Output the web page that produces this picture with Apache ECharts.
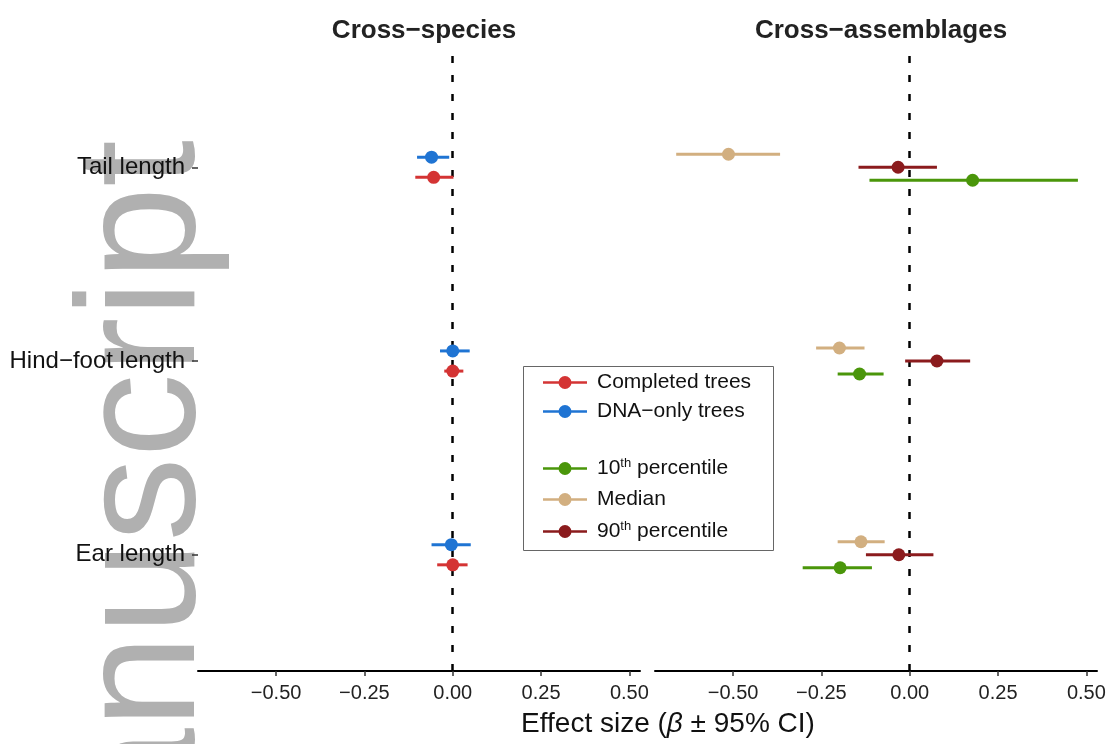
<!DOCTYPE html>
<html>
<head>
<meta charset="utf-8">
<title>Effect sizes</title>
<script src="https://cdn.jsdelivr.net/npm/echarts@6/dist/echarts.min.js"></script>
<style>
    html, body { margin: 0; padding: 0; background: #fff; }
    #chart { width: 1114px; height: 744px; }
</style>
</head>
<body>
<div id="chart"></div>
<script>
/* ===== 数据 ===== */
// y position 1..3 from bottom
const traits = ["Ear length", "Hind\u2212foot length", "Tail length"];
const xTicks = [-0.5, -0.25, 0, 0.25, 0.5];

// Cross-species
const completedEst = [0.000, 0.000, -0.054];
const completedLo  = [-0.044, -0.024, -0.106];
const completedHi  = [0.042, 0.030, 0.002];
const dnaEst = [-0.004, 0.000, -0.060];
const dnaLo  = [-0.060, -0.036, -0.101];
const dnaHi  = [0.051, 0.048, -0.010];

// Cross-assemblages
const p10Est = [-0.197, -0.142, 0.178];
const p10Lo  = [-0.303, -0.204, -0.114];
const p10Hi  = [-0.107, -0.074, 0.476];
const medEst = [-0.138, -0.199, -0.513];
const medLo  = [-0.204, -0.265, -0.661];
const medHi  = [-0.071, -0.128, -0.367];
const p90Est = [-0.031, 0.077, -0.033];
const p90Lo  = [-0.124, -0.013, -0.145];
const p90Hi  = [0.067, 0.171, 0.077];

/* ===== 样式 ===== */
const FONT = "'Liberation Sans', Arial, Helvetica, sans-serif";
const ICON = "path://M0,5.3h44v2.4h-44z M28.5,6.5a6.5,6.5 0 1,1 -13,0a6.5,6.5 0 1,1 13,0z";
const minus = v => v.toFixed(2).replace("-", "\u2212");

function buildRows(est, lo, hi, dodge) {
    return est.map((v, i) => [i + 1 + dodge, lo[i], v, hi[i]]);
}

function forest(name, color, grid, rows) {
    return {
        name,
        type: "custom",
        xAxisIndex: grid,
        yAxisIndex: grid,
        itemStyle: { color },
        encode: { x: [1, 2, 3], y: 0 },
        data: rows,
        z: 5,
        renderItem(params, api) {
            const y = api.value(0);
            const a = api.coord([api.value(1), y]);
            const b = api.coord([api.value(3), y]);
            const c = api.coord([api.value(2), y]);
            return {
                type: "group",
                children: [
                    { type: "line", shape: { x1: a[0], y1: a[1], x2: b[0], y2: b[1] },
                      style: { stroke: color, lineWidth: 3 } },
                    { type: "circle", shape: { cx: c[0], cy: c[1], r: 6.5 },
                      style: { fill: color } },
                ],
            };
        },
    };
}

function zeroLine(grid) {
    return {
        type: "line", xAxisIndex: grid, yAxisIndex: grid, data: [], silent: true,
        markLine: {
            silent: true, symbol: "none", label: { show: false },
            lineStyle: { color: "#000", width: 2.5, type: [7, 12] },
            data: [{ xAxis: 0 }],
        },
    };
}

function xAxisOf(grid) {
    return {
        type: "value", gridIndex: grid, min: -0.721, max: 0.53,
        axisLine: { show: true, onZero: false, lineStyle: { color: "#000", width: 2 } },
        axisTick: { show: true, customValues: xTicks, length: 5, lineStyle: { color: "#333", width: 1.5 } },
        axisLabel: { customValues: xTicks, formatter: minus, color: "#222", fontSize: 20, fontFamily: FONT, margin: 12 },
        splitLine: { show: false },
    };
}

function yAxisOf(grid) {
    return {
        type: "value", gridIndex: grid, min: 0.4, max: 3.6,
        axisLine: { show: false, onZero: false },
        axisTick: { show: grid === 0, customValues: [1, 2, 3], length: 6, lineStyle: { color: "#333", width: 1.5 } },
        axisLabel: { show: grid === 0, customValues: [1, 2, 3], formatter: v => traits[Math.round(v) - 1],
                     color: "#111", fontSize: 24, fontFamily: FONT, margin: 13 },
        splitLine: { show: false },
    };
}

const sup = { fontSize: 13, fontFamily: FONT, color: "#111", padding: [0, 0, 10, 0] };

const option = {
    backgroundColor: "#fff",
    animation: false,
    title: [
        { text: "Cross\u2212species", left: 419, top: 13, textAlign: "center",
          textStyle: { fontSize: 26, fontWeight: "bold", color: "#222", fontFamily: FONT } },
        { text: "Cross\u2212assemblages", left: 876, top: 13, textAlign: "center",
          textStyle: { fontSize: 26, fontWeight: "bold", color: "#222", fontFamily: FONT } },
        { text: "Effect size ({i|\u03b2} \u00b1 95% CI)", left: 663, top: 705, textAlign: "center",
          textStyle: { fontSize: 28, fontWeight: "normal", color: "#111", fontFamily: FONT,
                       rich: { i: { fontSize: 28, fontStyle: "italic", color: "#111", fontFamily: FONT } } } },
    ],
    grid: [
        { left: 198, top: 51, width: 442, height: 620 },
        { left: 655, top: 51, width: 442, height: 620 },
    ],
    xAxis: [xAxisOf(0), xAxisOf(1)],
    yAxis: [yAxisOf(0), yAxisOf(1)],
    legend: [
        { data: ["Completed trees", "DNA\u2212only trees"], orient: "vertical", left: 538, top: 367,
          icon: ICON, itemWidth: 44, itemHeight: 13, itemGap: 8,
          textStyle: { fontSize: 21, color: "#111", fontFamily: FONT, padding: [0, 0, 0, 5] } },
        { data: ["10th percentile", "Median", "90th percentile"], orient: "vertical", left: 538, top: 452,
          icon: ICON, itemWidth: 44, itemHeight: 13, itemGap: 10,
          formatter: n => n.replace(/^(\d+)th/, "$1{s|th}"),
          textStyle: { fontSize: 21, color: "#111", fontFamily: FONT, padding: [0, 0, 0, 5], rich: { s: sup } } },
    ],
    graphic: [
        { type: "text", x: 148, y: 140, rotation: Math.PI / 2, z: -10, silent: true,
          style: { text: "manuscript", x: 0, y: 0, textAlign: "right", verticalAlign: "middle", textVerticalAlign: "middle",
                   font: "168px 'Liberation Sans', Arial, sans-serif", fill: "#b0b0b0" } },
        { type: "rect", z: 10, silent: true,
          shape: { x: 523.5, y: 366.5, width: 250, height: 184 },
          style: { fill: "rgba(255,255,255,0)", stroke: "#666", lineWidth: 1 } },
    ],
    series: [
        zeroLine(0),
        zeroLine(1),
        forest("Completed trees", "#d43434", 0, buildRows(completedEst, completedLo, completedHi, -0.052)),
        forest("DNA\u2212only trees", "#1f74d3", 0, buildRows(dnaEst, dnaLo, dnaHi, 0.052)),
        forest("10th percentile", "#4a960a", 1, buildRows(p10Est, p10Lo, p10Hi, -0.067)),
        forest("Median", "#d2af80", 1, buildRows(medEst, medLo, medHi, 0.067)),
        forest("90th percentile", "#8b1b1d", 1, buildRows(p90Est, p90Lo, p90Hi, 0)),
    ],
};

/* ===== 启动 ===== */
const chart = echarts.init(document.getElementById("chart"), null, { renderer: "canvas" });
chart.setOption(option);
</script>
</body>
</html>
